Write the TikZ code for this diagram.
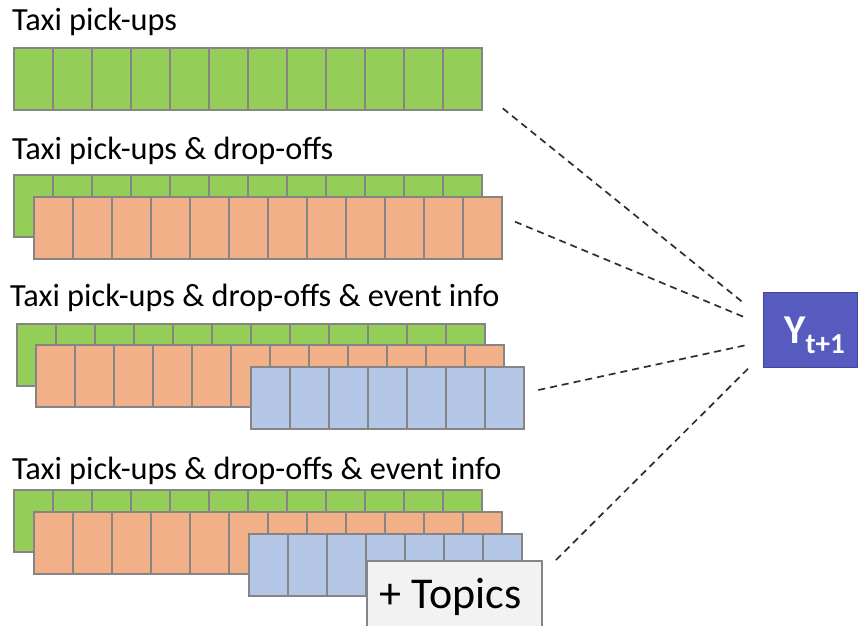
\documentclass[tikz,border=0pt]{standalone}
\usepackage{fontspec}
\setmainfont{Carlito}
\definecolor{cellgreen}{HTML}{94CE58}
\definecolor{cellorange}{HTML}{F2B088}
\definecolor{cellblue}{HTML}{B4C7E6}
\definecolor{cellline}{HTML}{858585}
\definecolor{topicfill}{HTML}{F2F2F2}
\definecolor{targetblue}{HTML}{575BBF}
\definecolor{targetedge}{HTML}{3E4899}
\definecolor{linkgray}{HTML}{2E2E2E}
\tikzset{
  cell/.style={draw=cellline, line width=2pt, minimum width=39pt,
    minimum height=62pt, inner sep=0pt, anchor=north west},
  rowtitle/.style={anchor=base west, inner sep=0pt,
    font=\fontsize{32.3}{38}\selectfont},
  topicbox/.style={draw=cellline, fill=topicfill, line width=2pt,
    minimum width=174.7pt, minimum height=80pt, inner sep=0pt, anchor=north west},
  targetbox/.style={draw=targetedge, fill=targetblue, line width=1pt,
    minimum width=94.3pt, minimum height=75pt, inner sep=0pt, anchor=north west},
  link/.style={draw=linkgray, line width=1.7pt, dash pattern=on 7pt off 5pt}
}
% one strip of #4 cells named #1-1 ... #1-#4, top-left corner at (#2,#3)
\newcommand\cellrow[5]{%
  \foreach \i in {1,...,#4}{%
    \node[cell, fill=#5] (#1-\i) at ({#2+(\i-1)*39}, #3) {};}}
\begin{document}
\begin{tikzpicture}[x=1pt, y=-1pt]
\useasboundingbox (0,0) rectangle (858,625);

% row 1: pick-ups only
\node[rowtitle] (t1) at (12,30) {Taxi pick-ups};
\cellrow{ga}{13.3}{46.7}{12}{cellgreen}

% row 2: pick-ups and drop-offs
\node[rowtitle] (t2) at (12,159) {Taxi pick-ups \& drop-offs};
\cellrow{gb}{13.3}{174}{12}{cellgreen}
\cellrow{ob}{33}{195.7}{12}{cellorange}

% row 3: plus event info
\node[rowtitle] (t3) at (10,306) {Taxi pick-ups \& drop-offs \& event info};
\cellrow{gc}{15.7}{322.7}{12}{cellgreen}
\cellrow{oc}{35}{344.3}{12}{cellorange}
\cellrow{bc}{249.7}{366}{7}{cellblue}

% row 4: plus event info and topics
\node[rowtitle] (t4) at (12,479) {Taxi pick-ups \& drop-offs \& event info};
\cellrow{gd}{13.3}{489.3}{12}{cellgreen}
\cellrow{od}{32.7}{510.7}{12}{cellorange}
\cellrow{bd}{248.3}{532.7}{7}{cellblue}
\node[topicbox] (topics) at (366,560) {};
\node[anchor=base, inner sep=0pt, font=\fontsize{44}{48}\selectfont] (topiclabel)
  at (450.5,608) {+ Topics};

% prediction target
\node[targetbox] (yb) at (762.7,291.7) {};
\node[anchor=base west, inner sep=0pt, text=white,
  font=\fontsize{41}{44}\selectfont\bfseries] (ylab) at (784,343)
  {Y\raisebox{-10pt}{\fontsize{29}{30}\selectfont t+1}};

% dashed links from each feature set towards the target
\coordinate (s1) at (502.7,108.3);  \coordinate (e1) at (743.3,302.7);
\coordinate (s2) at (515,221.7);    \coordinate (e2) at (743.3,316.7);
\coordinate (s3) at (538.3,390);    \coordinate (e3) at (746.7,345);
\coordinate (s4) at (556,560);      \coordinate (e4) at (750,366.7);
\draw[link] (s1) -- (e1);
\draw[link] (s2) -- (e2);
\draw[link] (s3) -- (e3);
\draw[link] (s4) -- (e4);
\end{tikzpicture}
\end{document}
